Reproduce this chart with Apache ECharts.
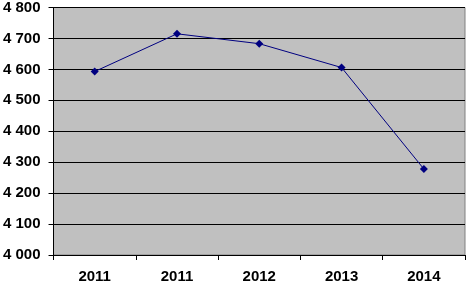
<!DOCTYPE html>
<html>
<head>
<meta charset="utf-8">
<script src="https://cdn.jsdelivr.net/npm/echarts@6/dist/echarts.min.js"></script>
<style>
  html, body { margin: 0; padding: 0; background: #fff; }
  #chart { width: 466px; height: 284px; }
</style>
</head>
<body>
<div id="chart"></div>
<script>
// données
let years = ['2011', '2011', '2012', '2013', '2014'];
let values = [4593, 4715, 4683, 4606, 4278];
let yMin = 4000, yMax = 4800, yStep = 100;

let chart = echarts.init(document.getElementById('chart'));

let option = {
  animation: false,
  grid: {
    left: 53, right: 1, top: 6, bottom: 29,
    show: true,
    backgroundColor: '#c0c0c0',
    borderColor: '#808080',
    borderWidth: 1
  },
  xAxis: {
    type: 'category',
    boundaryGap: true,
    data: years,
    axisLine: { lineStyle: { color: '#000', width: 1 } },
    axisTick: { show: true, length: 5, lineStyle: { color: '#000' } },
    axisLabel: {
      color: '#000', fontFamily: 'Arial, Liberation Sans', fontWeight: 'bold',
      fontSize: 15, margin: 14
    }
  },
  yAxis: {
    type: 'value',
    min: yMin, max: yMax, interval: yStep,
    axisLine: { show: true, lineStyle: { color: '#000', width: 1 } },
    axisTick: { show: true, length: 5, lineStyle: { color: '#000' } },
    splitLine: { lineStyle: { color: '#000', width: 1 } },
    axisLabel: {
      color: '#000', fontFamily: 'Arial, Liberation Sans', fontWeight: 'bold',
      fontSize: 15, margin: 13,
      formatter: v => String(v).replace(/\B(?=(\d{3})+(?!\d))/g, ' ')
    }
  },
  series: [{
    type: 'line',
    data: values,
    symbol: 'diamond',
    symbolSize: 8,
    lineStyle: { color: '#000080', width: 1 },
    itemStyle: { color: '#000080' }
  }]
};

chart.setOption(option);
</script>
</body>
</html>
